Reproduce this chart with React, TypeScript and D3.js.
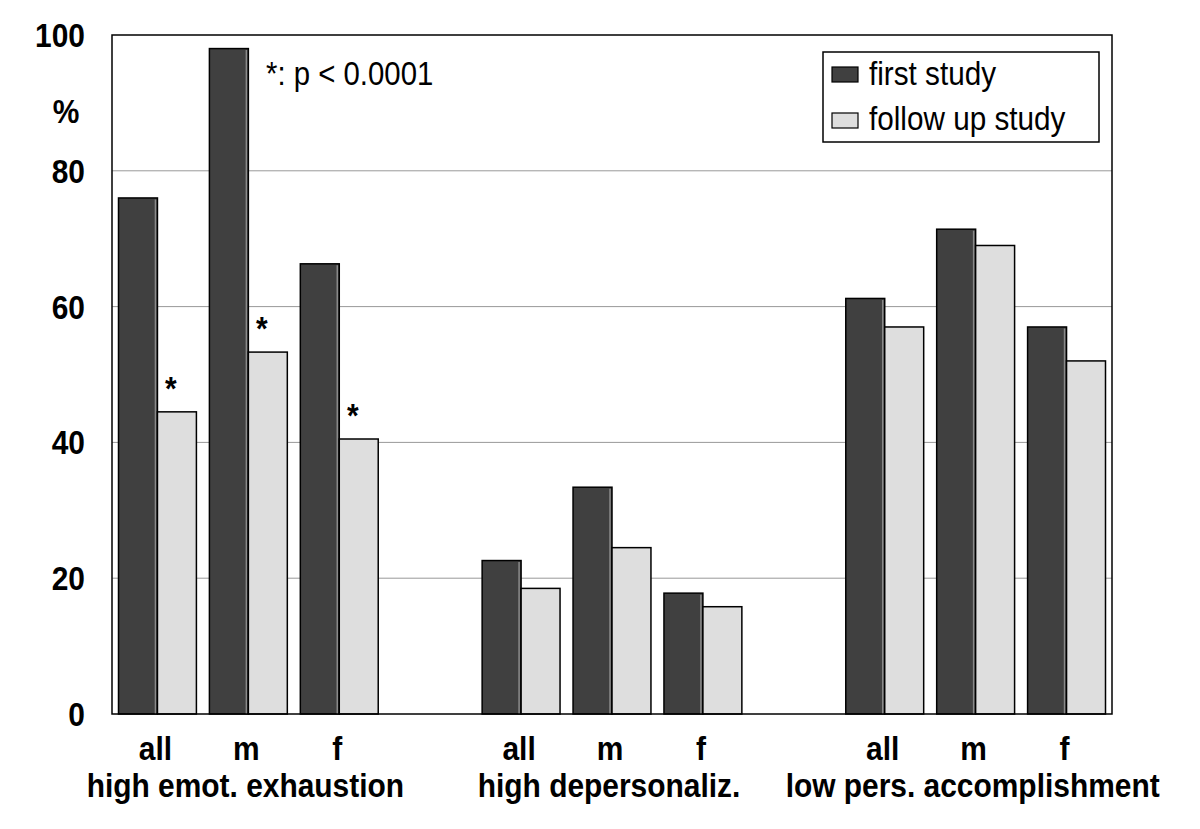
import React from "react";
import * as d3 from "d3";

const slots = ["emo-all", "emo-m", "emo-f", "gap1", "dep-all", "dep-m", "dep-f", "gap2", "acc-all", "acc-m", "acc-f"];
const slotLabels = ["all", "m", "f", "", "all", "m", "f", "", "all", "m", "f"];
const barSlots = ["emo-all", "emo-m", "emo-f", "dep-all", "dep-m", "dep-f", "acc-all", "acc-m", "acc-f"];
const firstStudy = [76, 98, 66.3, 22.6, 33.4, 17.8, 61.2, 71.4, 57];
const followUp = [44.5, 53.3, 40.5, 18.5, 24.5, 15.8, 57, 69, 52];
const significant = [true, true, true, false, false, false, false, false, false];
const groupLabels = ["high emot. exhaustion", "high depersonaliz.", "low pers. accomplishment"];
const groupCenters = ["emo-m", "dep-m", "acc-m"];
const yTicks = [0, 20, 40, 60, 80, 100];
const seriesNames = ["first study", "follow up study"];
const colors = ["#404040", "#dedede"];

const W = 1200;
const H = 829;
const M = { left: 112, right: 1112, top: 35, bottom: 714 };
const FONT = "'Liberation Sans', Arial, Helvetica, sans-serif";

function T(props: { x: number; y: number; anchor?: string; size: number; weight?: string; sx?: number; children: React.ReactNode; dy?: string }) {
  const { x, y, anchor = "start", size, weight = "bold", sx = 0.88, children, dy } = props;
  return (
    <text
      transform={`translate(${x},${y}) scale(${sx},1)`}
      textAnchor={anchor}
      fontFamily={FONT}
      fontSize={size}
      fontWeight={weight}
      fill="#000"
      dy={dy}
    >
      {children}
    </text>
  );
}

export default function App() {
  const x = d3.scaleBand<string>().domain(slots).range([M.left, M.right]).paddingInner(0.143).paddingOuter(0.0715);
  const y = d3.scaleLinear().domain([0, 100]).range([M.bottom, M.top]);
  const bw = x.bandwidth() / 2;

  return (
    <svg width={W} height={H} style={{ position: "absolute", left: 0, top: 0, background: "#fff" }}>
      <rect x={0} y={0} width={W} height={H} fill="#fff" />
      {/* gridlines */}
      {yTicks.filter((t) => t > 0 && t < 100).map((t) => (
        <line key={t} x1={M.left} x2={M.right} y1={y(t)} y2={y(t)} stroke="#999" strokeWidth={1} />
      ))}
      {/* bars */}
      {barSlots.map((s, i) => {
        const x0 = x(s)!;
        const vals = [firstStudy[i], followUp[i]];
        return (
          <g key={s}>
            {vals.map((v, j) => (
              <g key={j}>
                <rect
                  x={x0 + j * bw}
                  y={y(v)}
                  width={bw}
                  height={y(0) - y(v)}
                  fill={colors[j]}
                  stroke="#000"
                  strokeWidth={1.5}
                />
                {j === 0 && (
                  <line
                    x1={x0 + bw - 2}
                    x2={x0 + bw - 2}
                    y1={y(v) + 1.5}
                    y2={y(0)}
                    stroke="#8a8a8a"
                    strokeWidth={1.5}
                  />
                )}
              </g>
            ))}
            {significant[i] && (
              <T x={x0 + bw * 1.5 - 6} y={y(followUp[i]) - 12} anchor="middle" size={34}>
                *
              </T>
            )}
          </g>
        );
      })}
      {/* frame */}
      <rect x={M.left} y={M.top} width={M.right - M.left} height={M.bottom - M.top} fill="none" stroke="#000" strokeWidth={1.5} />
      {/* y tick labels */}
      {yTicks.map((t) => (
        <T key={t} x={85} y={y(t)} anchor="end" size={34} dy="0.35em">
          {t}
        </T>
      ))}
      <T x={66} y={111} anchor="middle" size={34} dy="0.35em">
        %
      </T>
      {/* x labels */}
      {slots.map((s, i) =>
        slotLabels[i] ? (
          <T key={s} x={x(s)! + x.bandwidth() / 2 - 2} y={760} anchor="middle" size={34}>
            {slotLabels[i]}
          </T>
        ) : null
      )}
      {groupLabels.map((g, i) => (
        <T key={g} x={x(groupCenters[i])! + x.bandwidth() / 2 - 3} y={797} anchor="middle" size={34}>
          {g}
        </T>
      ))}
      {/* annotation */}
      <T x={266} y={85} size={33} weight="normal" sx={0.89}>
        *: p &lt; 0.0001
      </T>
      {/* legend */}
      <rect x={823} y={52} width={276} height={90} fill="#fff" stroke="#000" strokeWidth={1.5} />
      {seriesNames.map((n, i) => (
        <g key={n}>
          <rect x={832} y={67 + i * 46} width={26} height={15} fill={colors[i]} stroke="#000" strokeWidth={1.2} />
          <T x={869} y={85 + i * 45} size={33} weight="normal" sx={0.9}>
            {n}
          </T>
        </g>
      ))}
    </svg>
  );
}
